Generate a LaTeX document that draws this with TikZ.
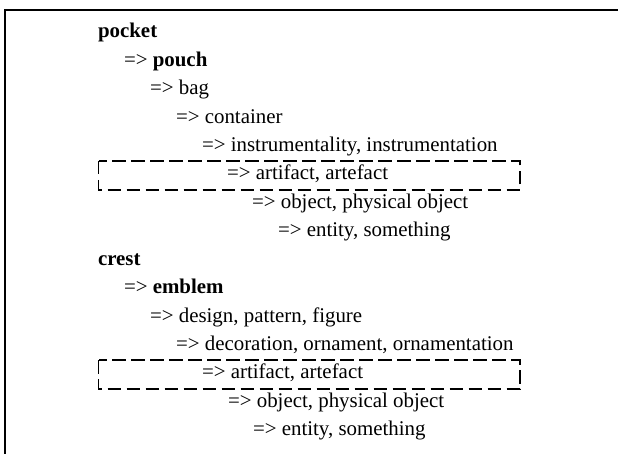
\documentclass[tikz,border=0pt]{standalone}
\usepackage{fontspec}
\setmainfont{Liberation Serif}
\begin{document}
\begin{tikzpicture}[x=1pt,y=-1pt,
  entry/.style={anchor=base west, inner sep=0pt, outer sep=0pt,
    font=\fontsize{20.9}{25}\selectfont},
  frameline/.style={line width=2pt, draw=black},
  highlight/.style={draw=black, line width=1.5pt, dash pattern=on 13.5pt off 5.5pt}]
\useasboundingbox (0,0) rectangle (618,454);

% open frame: top and left edges
\coordinate (ftr) at (619,10);
\coordinate (ftl) at (5,10);
\coordinate (fbl) at (5,455);
\draw[frameline] (ftr) -- (ftl) -- (fbl);

% first hypernym chain
\node[entry] (p0) at (98,38)    {\textbf{pocket}};
\node[entry] (p1) at (124,66.4) {=> \textbf{pouch}};
\node[entry] (p2) at (150,94.8) {=> bag};
\node[entry] (p3) at (176,123.2){=> container};
\node[entry] (p4) at (202,151.6){=> instrumentality, instrumentation};
\node[entry] (p5) at (227,180)  {=> artifact, artefact};
\node[entry] (p6) at (252,208.4){=> object, physical object};
\node[entry] (p7) at (278,236.8){=> entity, something};

% second hypernym chain
\node[entry] (c0) at (98,265.2)  {\textbf{crest}};
\node[entry] (c1) at (124,293.6) {=> \textbf{emblem}};
\node[entry] (c2) at (150,322)   {=> design, pattern, figure};
\node[entry] (c3) at (176,350.4) {=> decoration, ornament, ornamentation};
\node[entry] (c4) at (202,378.8) {=> artifact, artefact};
\node[entry] (c5) at (228,407.2) {=> object, physical object};
\node[entry] (c6) at (253,435.6) {=> entity, something};

% shared ancestor highlighted in both chains
\coordinate (b1a) at (98.5,161);
\coordinate (b1b) at (520,190);
\draw[highlight] (b1a) rectangle (b1b);
\coordinate (b2a) at (98.5,360);
\coordinate (b2b) at (520,389);
\draw[highlight] (b2a) rectangle (b2b);
\end{tikzpicture}
\end{document}
